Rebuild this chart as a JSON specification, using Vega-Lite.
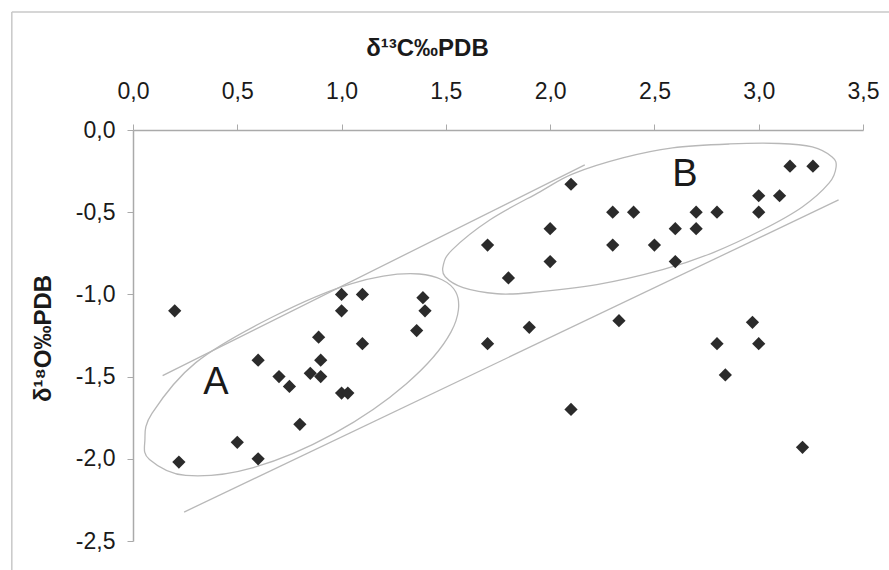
{
  "$schema": "https://vega.github.io/schema/vega-lite/v6.json",
  "width": 730,
  "height": 411,
  "autosize": {"type": "none"},
  "padding": {"left": 133, "top": 130, "right": 26, "bottom": 29},
  "background": "white",
  "config": {
    "view": {"stroke": null},
    "font": "Liberation Sans",
    "axis": {
      "grid": false,
      "domainColor": "#aaaaaa",
      "domainWidth": 1.5,
      "tickColor": "#aaaaaa",
      "tickWidth": 1,
      "tickSize": 6,
      "labelFont": "Liberation Sans",
      "labelFontSize": 23,
      "labelColor": "#1a1a1a",
      "labelFlush": false,
      "labelOverlap": false,
      "titleFont": "Liberation Sans",
      "titleFontSize": 24,
      "titleFontWeight": "bold",
      "titleColor": "#1a1a1a"
    }
  },
  "datasets": {
    "points": [
      {"x": 0.2, "y": -1.1}, {"x": 1.0, "y": -1.0}, {"x": 1.1, "y": -1.0}, {"x": 1.39, "y": -1.02},
      {"x": 1.0, "y": -1.1}, {"x": 1.4, "y": -1.1}, {"x": 1.36, "y": -1.22}, {"x": 0.89, "y": -1.26},
      {"x": 1.1, "y": -1.3}, {"x": 0.6, "y": -1.4}, {"x": 0.9, "y": -1.4}, {"x": 0.7, "y": -1.5},
      {"x": 0.85, "y": -1.48}, {"x": 0.9, "y": -1.5}, {"x": 0.75, "y": -1.56}, {"x": 1.0, "y": -1.6},
      {"x": 1.03, "y": -1.6}, {"x": 0.8, "y": -1.79}, {"x": 0.5, "y": -1.9}, {"x": 0.6, "y": -2.0},
      {"x": 0.22, "y": -2.02},
      {"x": 2.1, "y": -0.33}, {"x": 3.15, "y": -0.22}, {"x": 3.26, "y": -0.22}, {"x": 3.0, "y": -0.4},
      {"x": 3.1, "y": -0.4}, {"x": 2.3, "y": -0.5}, {"x": 2.4, "y": -0.5}, {"x": 2.7, "y": -0.5},
      {"x": 2.8, "y": -0.5}, {"x": 3.0, "y": -0.5}, {"x": 2.6, "y": -0.6}, {"x": 2.7, "y": -0.6},
      {"x": 2.0, "y": -0.6}, {"x": 1.7, "y": -0.7}, {"x": 2.3, "y": -0.7}, {"x": 2.5, "y": -0.7},
      {"x": 2.0, "y": -0.8}, {"x": 2.6, "y": -0.8}, {"x": 1.8, "y": -0.9},
      {"x": 1.7, "y": -1.3}, {"x": 1.9, "y": -1.2}, {"x": 2.33, "y": -1.16}, {"x": 2.97, "y": -1.17},
      {"x": 2.8, "y": -1.3}, {"x": 3.0, "y": -1.3}, {"x": 2.84, "y": -1.49}, {"x": 2.1, "y": -1.7},
      {"x": 3.21, "y": -1.93}
    ],
    "ellipses": [
      {"shape": "A", "order": 1, "x": 1.547, "y": -0.984},
      {"shape": "A", "order": 2, "x": 1.525, "y": -1.228},
      {"shape": "A", "order": 3, "x": 1.311, "y": -1.543},
      {"shape": "A", "order": 4, "x": 0.965, "y": -1.845},
      {"shape": "A", "order": 5, "x": 0.577, "y": -2.053},
      {"shape": "A", "order": 6, "x": 0.253, "y": -2.101},
      {"shape": "A", "order": 7, "x": 0.079, "y": -2.004},
      {"shape": "A", "order": 8, "x": 0.057, "y": -1.888},
      {"shape": "A", "order": 9, "x": 0.091, "y": -1.724},
      {"shape": "A", "order": 10, "x": 0.301, "y": -1.415},
      {"shape": "A", "order": 11, "x": 0.661, "y": -1.142},
      {"shape": "A", "order": 12, "x": 1.049, "y": -0.934},
      {"shape": "A", "order": 13, "x": 1.373, "y": -0.876},
      {"shape": "B", "order": 1, "x": 1.951, "y": -0.376},
      {"shape": "B", "order": 2, "x": 2.109, "y": -0.267},
      {"shape": "B", "order": 3, "x": 2.348, "y": -0.17},
      {"shape": "B", "order": 4, "x": 2.587, "y": -0.109},
      {"shape": "B", "order": 5, "x": 2.86, "y": -0.085},
      {"shape": "B", "order": 6, "x": 3.099, "y": -0.082},
      {"shape": "B", "order": 7, "x": 3.257, "y": -0.103},
      {"shape": "B", "order": 8, "x": 3.352, "y": -0.164},
      {"shape": "B", "order": 9, "x": 3.371, "y": -0.225},
      {"shape": "B", "order": 10, "x": 3.338, "y": -0.322},
      {"shape": "B", "order": 11, "x": 3.209, "y": -0.468},
      {"shape": "B", "order": 12, "x": 3.018, "y": -0.607},
      {"shape": "B", "order": 13, "x": 2.779, "y": -0.747},
      {"shape": "B", "order": 14, "x": 2.539, "y": -0.85},
      {"shape": "B", "order": 15, "x": 2.224, "y": -0.941},
      {"shape": "B", "order": 16, "x": 1.903, "y": -0.99},
      {"shape": "B", "order": 17, "x": 1.746, "y": -0.996},
      {"shape": "B", "order": 18, "x": 1.583, "y": -0.959},
      {"shape": "B", "order": 19, "x": 1.497, "y": -0.893},
      {"shape": "B", "order": 20, "x": 1.487, "y": -0.826},
      {"shape": "B", "order": 21, "x": 1.53, "y": -0.729},
      {"shape": "B", "order": 22, "x": 1.712, "y": -0.546}
    ],
    "lines": [
      {"line": "upper", "order": 1, "x": 0.142, "y": -1.494},
      {"line": "upper", "order": 2, "x": 2.166, "y": -0.2125},
      {"line": "lower", "order": 1, "x": 0.245, "y": -2.324},
      {"line": "lower", "order": 2, "x": 3.383, "y": -0.425}
    ],
    "frame": [
      {"x": -0.581, "x2": 3.7, "y": 0.718, "y2": 0.718},
      {"x": -0.581, "x2": -0.581, "y": 0.718, "y2": -2.75}
    ],
    "labels": [
      {"label": "A", "x": 0.397, "y": -1.538},
      {"label": "B", "x": 2.646, "y": -0.274}
    ]
  },
  "layer": [
    {
      "data": {"name": "frame"},
      "mark": {"type": "rule", "color": "#c8c8c8", "strokeWidth": 1.5},
      "encoding": {
        "x": {
          "field": "x", "type": "quantitative",
          "scale": {"domain": [0, 3.5], "nice": false, "zero": false},
          "axis": {
            "orient": "top",
            "title": "δ¹³C‰PDB",
            "values": [0, 0.5, 1, 1.5, 2, 2.5, 3, 3.5],
            "labelExpr": "replace(replace(format(datum.value, '.1f'), '.', ','), '−', '-')",
            "labelPadding": 21,
            "titleX": 294,
            "titleY": -82,
            "titleBaseline": "middle",
            "titleAnchor": null
          }
        },
        "x2": {"field": "x2"},
        "y": {
          "field": "y", "type": "quantitative",
          "scale": {"domain": [-2.5, 0], "nice": false, "zero": false},
          "axis": {
            "title": "δ¹⁸O‰PDB",
            "values": [0, -0.5, -1, -1.5, -2, -2.5],
            "labelExpr": "replace(replace(format(datum.value, '.1f'), '.', ','), '−', '-')",
            "labelPadding": 12,
            "titleX": -90,
            "titleY": 208,
            "titleBaseline": "middle",
            "titleAnchor": null
          }
        },
        "y2": {"field": "y2"}
      }
    },
    {
      "data": {"name": "lines"},
      "mark": {"type": "line", "color": "#b8b8b8", "strokeWidth": 1.3},
      "encoding": {
        "x": {"field": "x", "type": "quantitative", "scale": {"domain": [0, 3.5], "nice": false, "zero": false}},
        "y": {"field": "y", "type": "quantitative", "scale": {"domain": [-2.5, 0], "nice": false, "zero": false}},
        "detail": {"field": "line"},
        "order": {"field": "order", "type": "quantitative"}
      }
    },
    {
      "data": {"name": "ellipses"},
      "mark": {"type": "line", "interpolate": "cardinal-closed", "color": "#b8b8b8", "strokeWidth": 1.3},
      "encoding": {
        "x": {"field": "x", "type": "quantitative", "scale": {"domain": [0, 3.5], "nice": false, "zero": false}},
        "y": {"field": "y", "type": "quantitative", "scale": {"domain": [-2.5, 0], "nice": false, "zero": false}},
        "detail": {"field": "shape"},
        "order": {"field": "order", "type": "quantitative"}
      }
    },
    {
      "data": {"name": "points"},
      "mark": {"type": "point", "shape": "diamond", "filled": true, "size": 175, "color": "#2b2b2b", "opacity": 1},
      "encoding": {
        "x": {"field": "x", "type": "quantitative", "scale": {"domain": [0, 3.5], "nice": false, "zero": false}},
        "y": {"field": "y", "type": "quantitative", "scale": {"domain": [-2.5, 0], "nice": false, "zero": false}}
      }
    },
    {
      "data": {"name": "labels"},
      "mark": {"type": "text", "font": "Liberation Sans", "fontSize": 38, "color": "#1a1a1a", "align": "center", "baseline": "middle"},
      "encoding": {
        "x": {"field": "x", "type": "quantitative", "scale": {"domain": [0, 3.5], "nice": false, "zero": false}},
        "y": {"field": "y", "type": "quantitative", "scale": {"domain": [-2.5, 0], "nice": false, "zero": false}},
        "text": {"field": "label"}
      }
    }
  ]
}
